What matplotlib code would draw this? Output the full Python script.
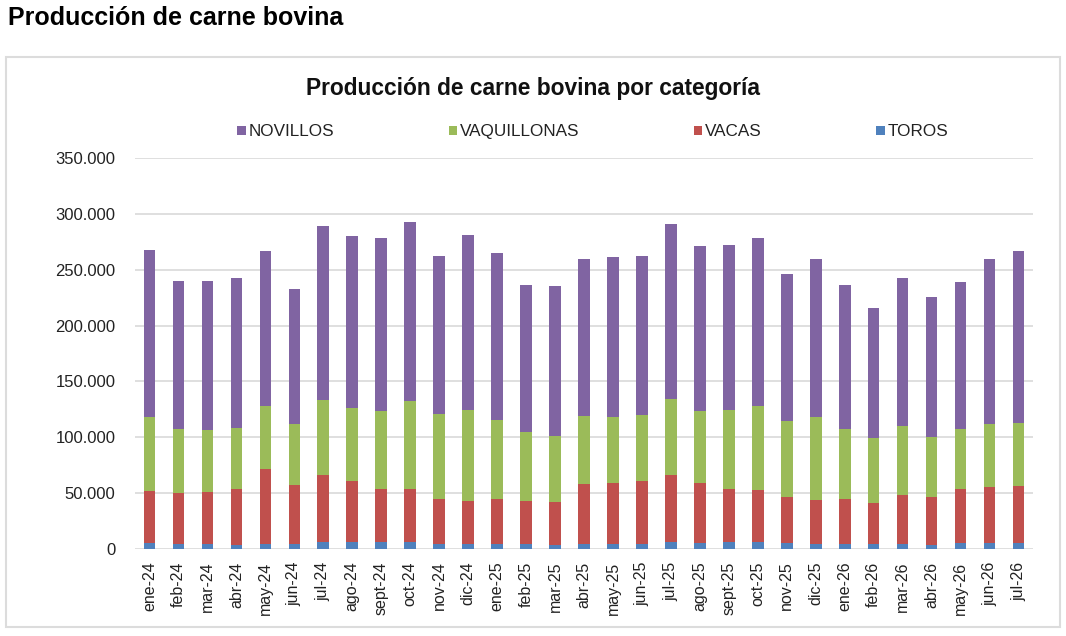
import numpy as np
import matplotlib.pyplot as plt
from matplotlib.patches import Rectangle
from matplotlib.ticker import FuncFormatter

plt.rcParams['font.family'] = ['Liberation Sans', 'DejaVu Sans']

meses = ['ene-24', 'feb-24', 'mar-24', 'abr-24', 'may-24', 'jun-24', 'jul-24', 'ago-24',
         'sept-24', 'oct-24', 'nov-24', 'dic-24', 'ene-25', 'feb-25', 'mar-25', 'abr-25',
         'may-25', 'jun-25', 'jul-25', 'ago-25', 'sept-25', 'oct-25', 'nov-25', 'dic-25',
         'ene-26', 'feb-26', 'mar-26', 'abr-26', 'may-26', 'jun-26', 'jul-26']

# toneladas por categoria
toros = [5400, 4800, 4200, 3600, 4800, 4200, 6300, 6000, 6000, 6300, 4500, 4200, 4500, 4200, 3300, 4500,
         4500, 4500, 6000, 5700, 6300, 6300, 5700, 4800, 4500, 4500, 4500, 3900, 5100, 5100, 5400]
vacas = [46900, 45700, 46900, 50200, 67000, 53200, 59800, 54700, 48100, 47500, 40100, 38900, 40100, 38900, 38600, 53800,
         55000, 56200, 60100, 53200, 47800, 46300, 40700, 39500, 40700, 37100, 44200, 42200, 49000, 50200, 51100]
vaquillonas = [66100, 56900, 55700, 54800, 55900, 54100, 67000, 65500, 69400, 79000, 76500, 81600, 71100, 61900, 58900, 60700,
               58600, 59200, 67900, 64600, 70600, 75400, 68100, 73500, 62200, 57700, 61000, 54400, 53000, 56200, 56200]
novillos = [149200, 132100, 133300, 133900, 139300, 120900, 156400, 153700, 155200, 160000, 140900, 156100, 149600, 131000, 134500, 140300,
            143600, 142400, 157000, 148000, 147400, 150700, 131900, 141800, 128800, 116600, 132800, 125000, 131500, 148100, 154300]

colores = {'NOVILLOS': '#8064A2', 'VAQUILLONAS': '#9BBB59', 'VACAS': '#C0504D', 'TOROS': '#4F81BD'}

fig = plt.figure(figsize=(10.66, 6.36), dpi=100)
ax = fig.add_axes([135 / 1066, 1 - 549 / 636, 898 / 1066, 391 / 636])

x = np.arange(len(meses))
ancho = 0.4
b_toros = ax.bar(x, toros, ancho, color=colores['TOROS'], label='TOROS', zorder=3)
base = np.array(toros)
b_vacas = ax.bar(x, vacas, ancho, bottom=base, color=colores['VACAS'], label='VACAS', zorder=3)
base = base + np.array(vacas)
b_vaq = ax.bar(x, vaquillonas, ancho, bottom=base, color=colores['VAQUILLONAS'], label='VAQUILLONAS', zorder=3)
base = base + np.array(vaquillonas)
b_nov = ax.bar(x, novillos, ancho, bottom=base, color=colores['NOVILLOS'], label='NOVILLOS', zorder=3)

ax.set_xlim(-0.5, len(meses) - 0.5)
ax.set_ylim(0, 350000)
ax.set_yticks(np.arange(0, 350001, 50000))
ax.yaxis.set_major_formatter(FuncFormatter(lambda v, p: f'{int(v):,}'.replace(',', '.')))
ax.set_xticks(x)
ax.set_xticklabels(meses, rotation=90)
ax.tick_params(axis='both', length=0, labelsize=12, colors='#222222')
ax.tick_params(axis='x', pad=9, labelsize=11.5)
ax.tick_params(axis='y', pad=14)
ax.grid(axis='y', color='#d9d9d9', linewidth=1.2, zorder=0)
for s in ax.spines.values():
    s.set_visible(False)

fig.legend(handles=[b_nov, b_vaq, b_vacas, b_toros], labels=['NOVILLOS', 'VAQUILLONAS', 'VACAS', 'TOROS'],
           loc='center', bbox_to_anchor=(0.556, 1 - 132 / 636), ncol=4, frameon=False,
           fontsize=12.3, handlelength=0.5, handleheight=0.5, handletextpad=0.15,
           columnspacing=6.7, labelcolor='#222222')

fig.text(8 / 1066, 1 - 18 / 636, 'Producción de carne bovina', fontsize=18, fontweight='bold', va='center', ha='left')
fig.text(533 / 1066, 1 - 88 / 636, 'Producción de carne bovina por categoría', fontsize=16.4, fontweight='bold',
         va='center', ha='center', color='#111111')

fig.patches.append(Rectangle((6 / 1066, 1 - 627 / 636), 1054 / 1066, 570 / 636, transform=fig.transFigure,
                             fill=False, edgecolor='#dcdcdc', linewidth=1.5))

fig.savefig('out.png', dpi=100)
